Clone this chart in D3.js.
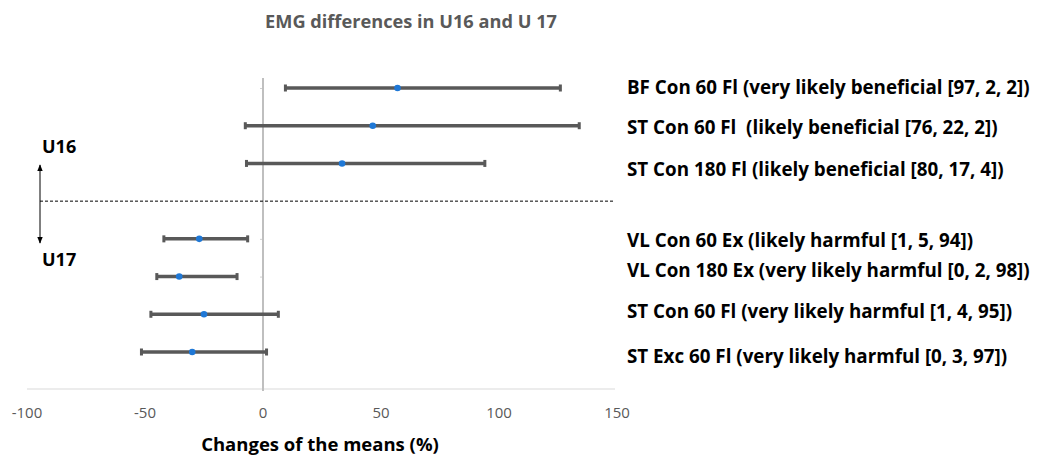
<!DOCTYPE html>
<html>
<head>
<meta charset="utf-8">
<script src="https://cdn.jsdelivr.net/npm/d3@7"></script>
<style>
  body { margin: 0; background: #fff; }
  text { font-family: "Open Sans", sans-serif; white-space: pre; }
</style>
</head>
<body>
<div class="graph"></div>
<script>
// rows from top to bottom; the blank one is the U16 / U17 separator
var rows = ["r1", "r2", "r3", "sep", "r5", "r6", "r7", "r8"];
var labels = [
  "BF Con 60 Fl (very likely beneficial [97, 2, 2])",
  "ST Con 60 Fl  (likely beneficial [76, 22, 2])",
  "ST Con 180 Fl (likely beneficial [80, 17, 4])",
  "",
  "VL Con 60 Ex (likely harmful [1, 5, 94])",
  "VL Con 180 Ex (very likely harmful [0, 2, 98])",
  "ST Con 60 Fl (very likely harmful [1, 4, 95])",
  "ST Exc 60 Fl (very likely harmful [0, 3, 97])"
];
var means = [57, 46.5, 33.5, null, -27, -35.5, -25, -30];
var lower = [9.5, -7.5, -7, null, -42, -45, -47.5, -51.5];
var upper = [126, 134, 94, null, -6.5, -11, 6.5, 1.5];
var xTicks = [-100, -50, 0, 50, 100, 150];

// the right-hand text boxes were placed by hand, not exactly on the rows
var labelShift = [-1, 1, 6, 0, 1, -7, -3, 4];

var width = 1040;
var height = 459;

var svg = d3.select(".graph").append("svg")
  .attr("width", width)
  .attr("height", height);

var x = d3.scaleLinear()
  .domain([-100, 150])
  .range([27, 617]);

var y = d3.scalePoint()
  .domain(rows)
  .range([88, 352]);

var axisY = 389;

// title
svg.append("text")
  .attr("x", 411)
  .attr("y", 28)
  .attr("text-anchor", "middle")
  .attr("fill", "#595959")
  .style("font-size", "18.2px")
  .style("font-weight", "700")
  .text("EMG differences in U16 and U 17");

// bottom axis line
svg.append("line")
  .attr("x1", x(-100))
  .attr("x2", x(150) - 2)
  .attr("y1", axisY)
  .attr("y2", axisY)
  .attr("stroke", "#d9d9d9")
  .attr("stroke-width", 1);

// tick labels (no tick marks)
svg.selectAll(".xtick")
  .data(xTicks)
  .enter().append("text")
  .attr("class", "xtick")
  .attr("x", d => x(d))
  .attr("y", 418)
  .attr("text-anchor", "middle")
  .attr("fill", "#595959")
  .style("font-size", "15px")
  .text(d => d);

svg.append("text")
  .attr("x", 320)
  .attr("y", 451)
  .attr("text-anchor", "middle")
  .attr("fill", "#000")
  .style("font-size", "18.5px")
  .style("font-weight", "700")
  .text("Changes of the means (%)");

// vertical zero line acting as category axis
var yAxisGroup = svg.append("g")
  .attr("transform", "translate(" + x(0) + ",0)");
var yAxis = d3.axisLeft(y).tickSize(3).tickFormat("");
yAxis(yAxisGroup);
yAxisGroup.select(".domain").remove();
yAxisGroup.selectAll(".tick line").attr("stroke", "#d0d0d0");
yAxisGroup.append("line")
  .attr("x1", 0).attr("x2", 0)
  .attr("y1", 78).attr("y2", axisY + 2)
  .attr("stroke", "#bfbfbf")
  .attr("stroke-width", 2);

// separator
svg.append("line")
  .attr("x1", 40)
  .attr("x2", x(150) - 2)
  .attr("y1", y("sep"))
  .attr("y2", y("sep"))
  .attr("stroke", "#000")
  .attr("stroke-width", 1)
  .attr("stroke-dasharray", "3,2");

var defs = svg.append("defs");
defs.append("marker")
  .attr("id", "arr")
  .attr("viewBox", "0 0 10 10")
  .attr("refX", 9).attr("refY", 5)
  .attr("markerWidth", 7).attr("markerHeight", 7)
  .attr("orient", "auto-start-reverse")
  .append("path")
  .attr("d", "M0,1 L10,5 L0,9 Z")
  .attr("fill", "#000");

svg.append("line")
  .attr("x1", 40).attr("x2", 40)
  .attr("y1", 165).attr("y2", 243)
  .attr("stroke", "#000")
  .attr("stroke-width", 1)
  .attr("marker-start", "url(#arr)")
  .attr("marker-end", "url(#arr)");

svg.append("text")
  .attr("x", 42).attr("y", 153)
  .style("font-size", "18px")
  .style("font-weight", "700")
  .text("U16");

svg.append("text")
  .attr("x", 42).attr("y", 266)
  .style("font-size", "18px")
  .style("font-weight", "700")
  .text("U17");

// error bars
var data = rows.map(function (r, i) {
  return { row: r, label: labels[i], mean: means[i], lo: lower[i], hi: upper[i], shift: labelShift[i] };
});
var bars = data.filter(d => d.mean !== null);

var g = svg.append("g");

g.selectAll(".bar")
  .data(bars)
  .enter().append("line")
  .attr("x1", d => x(d.lo))
  .attr("x2", d => x(d.hi))
  .attr("y1", d => y(d.row))
  .attr("y2", d => y(d.row))
  .attr("stroke", "#595959")
  .attr("stroke-width", 3.5);

g.selectAll(".capl")
  .data(bars)
  .enter().append("rect")
  .attr("x", d => x(d.lo) - 1.5)
  .attr("y", d => y(d.row) - 3.5)
  .attr("width", 3)
  .attr("height", 7)
  .attr("fill", "#595959");

g.selectAll(".capr")
  .data(bars)
  .enter().append("rect")
  .attr("x", d => x(d.hi) - 1.5)
  .attr("y", d => y(d.row) - 3.5)
  .attr("width", 3)
  .attr("height", 7)
  .attr("fill", "#595959");

g.selectAll(".dot")
  .data(bars)
  .enter().append("circle")
  .attr("cx", d => x(d.mean))
  .attr("cy", d => y(d.row))
  .attr("r", 3.3)
  .attr("fill", "#1f78d6");

svg.selectAll(".lab")
  .data(bars)
  .enter().append("text")
  .attr("class", "lab")
  .attr("x", 627)
  .attr("y", d => y(d.row) + d.shift + 7)
  .style("font-size", "18.8px")
  .style("font-weight", "700")
  .text(d => d.label);
</script>
</body>
</html>
